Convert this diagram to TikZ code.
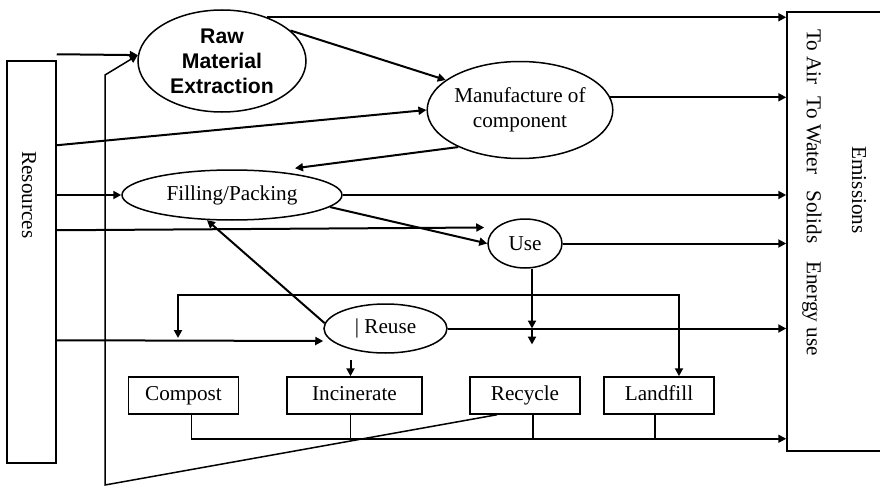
\documentclass[tikz,border=0pt]{standalone}
\usepackage{fontspec}
\setmainfont{Liberation Serif}
\newfontfamily\arialbold{Liberation Sans}
\usetikzlibrary{arrows.meta,positioning,calc,shapes.geometric}

\begin{document}
\begin{tikzpicture}[
  x=0.5pt, y=-0.5pt,
  >={Triangle[length=4pt,width=4pt]},
  every node/.style={align=center, font=\fontsize{10.6}{12.5}\selectfont, inner sep=0pt},
  blob/.style={draw, ellipse, line width=0.75pt},
  bin/.style={draw, rectangle, line width=0.75pt, minimum width=55pt, minimum height=18.5pt, text height=7.6pt, text depth=2.4pt},
  side/.style={draw, rectangle, line width=0.75pt},
  arrow/.style={->, line width=1pt},
  wire/.style={line width=0.75pt}
]
  \useasboundingbox (0,0) rectangle (880,487);

  % Side columns
  \node[side, minimum width=24.5pt, minimum height=201pt] (res) at (31.5,262) {};
  \node[rotate=-90] (resT) at (29,195) {Resources};
  \node[side, minimum width=60pt, minimum height=219.5pt] (emis) at (847,231.5) {};
  \node[rotate=-90] (emisT) at (812,192.5) {To Air\hspace{6pt}To Water\hspace{8pt}Solids\hspace{9pt}Energy use};
  \node[rotate=-90] (emisH) at (859,190) {Emissions};

  % Life cycle stages
  \node[blob, minimum width=84pt, minimum height=51pt, font=\arialbold\bfseries\fontsize{10.6}{12.5}\selectfont] (raw) at (222,61) {Raw\\Material\\Extraction};
  \node[blob, minimum width=92pt, minimum height=48.5pt] (manu) at (520,110) {Manufacture of\\component};
  \node[blob, minimum width=110pt, minimum height=25pt] (fill) at (232,195) {Filling/Packing};
  \node[blob, minimum width=37pt, minimum height=24.5pt] (use) at (525,243.5) {Use};
  \node[blob, minimum width=61.5pt, minimum height=24.5pt] (reuse) at (385.5,328.5) {| Reuse};

  % End of life
  \node[bin] (compost) at (183.5,395.5) {Compost};
  \node[bin, minimum width=67.5pt] (incin) at (354.5,395.5) {Incinerate};
  \node[bin] (recyc) at (525,395.5) {Recycle};
  \node[bin] (landf) at (659,395.5) {Landfill};

  % Flows between stages and to emissions
  \draw[arrow] (raw.44) -- (raw.44 -| emis.west);
  \draw[arrow] (raw.24) -- (manu.158);
  \draw[arrow] (manu.8) -- (manu.8 -| emis.west);
  \draw[arrow] (manu.211) -- ($(fill.north)+(63,-1)$);
  \draw[arrow] (fill.east) -- (fill.east -| emis.west);
  \draw[arrow] (fill.353) -- (use.west);
  \draw[arrow] (use.east) -- (use.east -| emis.west);
  \draw[arrow] (reuse.east) -- (reuse.east -| emis.west);
  \draw[arrow] (reuse.175) -- (fill.225);
  \draw[arrow] ($(reuse.south -| incin.north)+(-4,6)$) -- ($(incin.north)+(-4,0)$);

  \coordinate (drop) at ($(use.south)+(7,0)$);
  \draw[arrow] (drop) -- (drop |- reuse.east);
  \draw[arrow] (drop |- reuse.east) -- ++(0,16);

  % Resource inputs
  \draw[arrow] ($(res.north east)+(0,-6)$) -- (raw.176);
  \draw[arrow] ($(res.north east)+(0,85)$) -- (manu.west);
  \draw[arrow] (res.east |- fill.west) -- (fill.west);
  \draw[arrow] ($(res.north east)+(0,170)$) -- ($(use.west)+(-3,-16)$);
  \draw[arrow] ($(res.north east)+(0,280)$) -- ($(reuse.west)+(0,12.5)$);

  % Loop over the reuse line
  \coordinate (loopL) at (178,338);
  \coordinate (loopR) at (679,295);
  \draw[arrow, <->] (loopL) |- (loopR) -- (loopR |- landf.north);

  % Waste routes to emissions
  \coordinate (bus) at ($(compost.south)+(8,24)$);
  \draw[wire, ->] ($(compost.south)+(8,0)$) -- (bus) -- (bus -| emis.west);
  \draw[wire] ($(incin.south)+(-4,0)$) -- ++(0,24);
  \draw[wire] ($(recyc.south)+(8,0)$) -- ++(0,24);
  \draw[wire] ($(landf.south)+(-4,0)$) -- ++(0,24);

  % Recycle back to extraction
  \coordinate (backB) at (105,485);
  \coordinate (backT) at (105,75);
  \draw[wire, ->] ($(recyc.south)+(-28,0)$) -- (backB) -- (backT) -- (raw.176);
\end{tikzpicture}
\end{document}
